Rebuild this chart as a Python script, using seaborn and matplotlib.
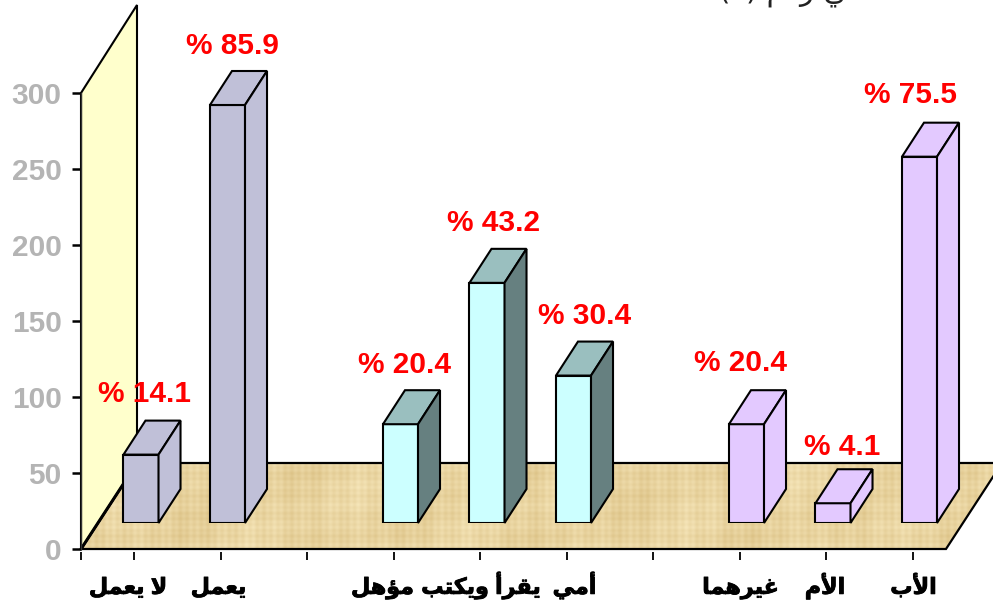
import numpy as np
import pandas as pd
import matplotlib
matplotlib.use("Agg")
import matplotlib.pyplot as plt
import matplotlib.patheffects as pe
from matplotlib.patches import Polygon
from matplotlib.transforms import IdentityTransform, ScaledTranslation
import seaborn as sns

# Arabic written as presentation forms in visual order, matplotlib does no shaping
categories = ["no_work", "work", "gap1", "qualified", "literate", "illiterate", "gap2", "others", "mother", "father"]
tick_labels = [
    "\uFEDE\uFEE4\uFECC\uFEF3 \uFEFB",
    "\uFEDE\uFEE4\uFECC\uFEF3",
    "",
    "\uFEDE\uFEEB\uFE86\uFEE3",
    "\uFE90\uFE98\uFEDC\uFEF3\uFEED \uFE83\uFEAE\uFED8\uFEF3",
    "\uFEF2\uFEE3\uFE83",
    "",
    "\uFE8E\uFEE4\uFEEB\uFEAE\uFEF4\uFECF",
    "\uFEE1\uFEF7\uFE8D",
    "\uFE8F\uFEF7\uFE8D",
]
bar_cats = ["no_work", "work", "qualified", "literate", "illiterate", "others", "mother", "father"]
groups = ["job", "job", "edu", "edu", "edu", "who", "who", "who"]
counts = [45, 275, 65, 158, 97, 65, 13, 241]
percents = [14.1, 85.9, 20.4, 43.2, 30.4, 20.4, 4.1, 75.5]
y_ticks = [0, 50, 100, 150, 200, 250, 300]

face_colors = {"job": "#C0C0D8", "edu": "#CCFFFF", "who": "#E3C9FF"}
top_colors = {"job": "#C0C0D8", "edu": "#9ABFBF", "who": "#E3C9FF"}
side_colors = {"job": "#C0C0D8", "edu": "#668080", "who": "#E3C9FF"}

# label nudges in pixels from the bar's top centre
label_dx = [4, 4.5, 4.5, 6.5, 11.5, -6, 9, -9]
label_dy = [61, 59, 59, 60, 60, 61, 56, 62]
tick_dx = [-6, -2, 0, -11, 1, 8, 0, 1, -1, 1]

W, H = 993, 605
DEPTH_X, DEPTH_Y = 22, 34

sns.set_theme(style="white")
plt.rcParams["font.family"] = ["Liberation Sans", "DejaVu Sans"]

fig = plt.figure(figsize=(W / 100, H / 100), dpi=100)

# background: wall and floor, in pixel coordinates
bg = fig.add_axes([0, 0, 1, 1], zorder=0)
bg.set_xlim(0, W)
bg.set_ylim(H, 0)
bg.axis("off")

xx, yy = np.meshgrid(np.arange(W), np.arange(H))
weave = (np.sin(xx * 0.9) + 0.8 * np.sin(xx * 0.23 + 1) + 0.9 * np.sin(xx * 0.057)
         + 0.7 * np.sin(yy * 1.1) + 0.7 * np.sin(yy * 0.31 + 2)
         + 0.8 * np.sin(xx * 0.031 + yy * 0.07))
weave = weave / np.abs(weave).max()
tex = np.empty((H, W, 3))
for k, (base, amp) in enumerate([(233, 13), (212, 18), (160, 26)]):
    tex[:, :, k] = (base + amp * weave) / 255
img = bg.imshow(tex, extent=(0, W, H, 0), interpolation="bilinear", aspect="auto", zorder=1)
floor = Polygon([(81, 549), (946, 549), (1002, 463), (137, 463)], closed=True,
                facecolor="none", edgecolor="black", linewidth=1.6, zorder=2)
bg.add_patch(floor)
img.set_clip_path(floor)
wall = Polygon([(81, 93), (137, 5), (137, 463), (81, 549)], closed=True,
               facecolor="#FFFFCC", edgecolor="black", linewidth=1.5, zorder=3)
bg.add_patch(wall)
bg.plot([81, 137], [549, 463], color="black", linewidth=2.2, zorder=4)
bg.text(790, -1, "(\u0662) \uFEE2\uFED7\uFEAD \uFEF2\uFED3", fontsize=21, color="#222222",
        ha="center", va="baseline", family=["DejaVu Sans"], zorder=4)

# frame axes: carries the ticks and tick labels
frame = fig.add_axes([81 / W, (H - 549) / H, 865 / W, 456 / H], zorder=1)
frame.patch.set_visible(False)
x_left, x_right = (81 - 134) / 86.5, (946 - 134) / 86.5
frame.set_xlim(x_left, x_right)
frame.set_ylim(0, 300)
for s in ["top", "right", "bottom"]:
    frame.spines[s].set_visible(False)
frame.spines["left"].set_color("#333333")
frame.spines["left"].set_linewidth(1.0)
frame.spines["bottom"].set_position(("outward", 1.8))
frame.set_yticks(y_ticks)
frame.set_xticks([x_left] + list(range(len(categories))))
frame.set_xticklabels([""] + tick_labels)
frame.tick_params(axis="y", left=True, direction="out", length=6.5, width=1.8, color="black", pad=7.5,
                  labelsize=21.5, labelcolor="#B4B4B4")
frame.tick_params(axis="x", bottom=True, direction="out", length=6, width=1.3, color="black", pad=24.5,
                  labelsize=16, labelcolor="black")
for lab in frame.get_yticklabels():
    lab.set_fontweight("bold")
for lab, dx in zip(frame.get_xticklabels()[1:], tick_dx):
    lab.set_fontweight("bold")
    lab.set_verticalalignment("baseline")
    lab.set_path_effects([pe.withStroke(linewidth=0.6, foreground="black")])
    lab.set_transform(lab.get_transform() + ScaledTranslation(dx / 100, 0, fig.dpi_scale_trans))

# bars sit part way back on the floor, so their axes is shifted from the frame
ax = fig.add_axes([88 / W, (H - 523) / H, 865 / W, 456 / H], zorder=2)
ax.patch.set_visible(False)
df = pd.DataFrame({"category": bar_cats, "count": counts, "group": groups})
sns.barplot(data=df, x="category", y="count", hue="group", order=categories, palette=face_colors,
            dodge=False, width=0.405, saturation=1, edgecolor="black", linewidth=1.5, legend=False, ax=ax)
ax.set_xlim(x_left, x_right)
ax.set_ylim(0, 300)
ax.axis("off")

bars = [p for p in ax.patches if np.isfinite(p.get_height()) and p.get_height() > 0]
bars = sorted(bars, key=lambda p: p.get_x())
for i, p in enumerate(bars):
    (x0, y0), (x1, y1) = ax.transData.transform(
        [(p.get_x(), 0), (p.get_x() + p.get_width(), p.get_height())])
    g = groups[i]
    top = [(x0, y1), (x1, y1), (x1 + DEPTH_X, y1 + DEPTH_Y), (x0 + DEPTH_X, y1 + DEPTH_Y)]
    side = [(x1, y0), (x1 + DEPTH_X, y0 + DEPTH_Y), (x1 + DEPTH_X, y1 + DEPTH_Y), (x1, y1)]
    for pts, col in [(top, top_colors[g]), (side, side_colors[g])]:
        ax.add_patch(Polygon(pts, closed=True, facecolor=col, edgecolor="black", linewidth=1.5,
                             transform=IdentityTransform(), clip_on=False))
    ax.annotate(f"% {percents[i]}", ((x0 + x1) / 2, y1), xycoords=IdentityTransform(),
                xytext=(label_dx[i], label_dy[i]), textcoords="offset pixels",
                ha="center", va="center", color="#FF0000", fontsize=21.5, fontweight="bold",
                annotation_clip=False)

fig.savefig("out.png", dpi=100)
